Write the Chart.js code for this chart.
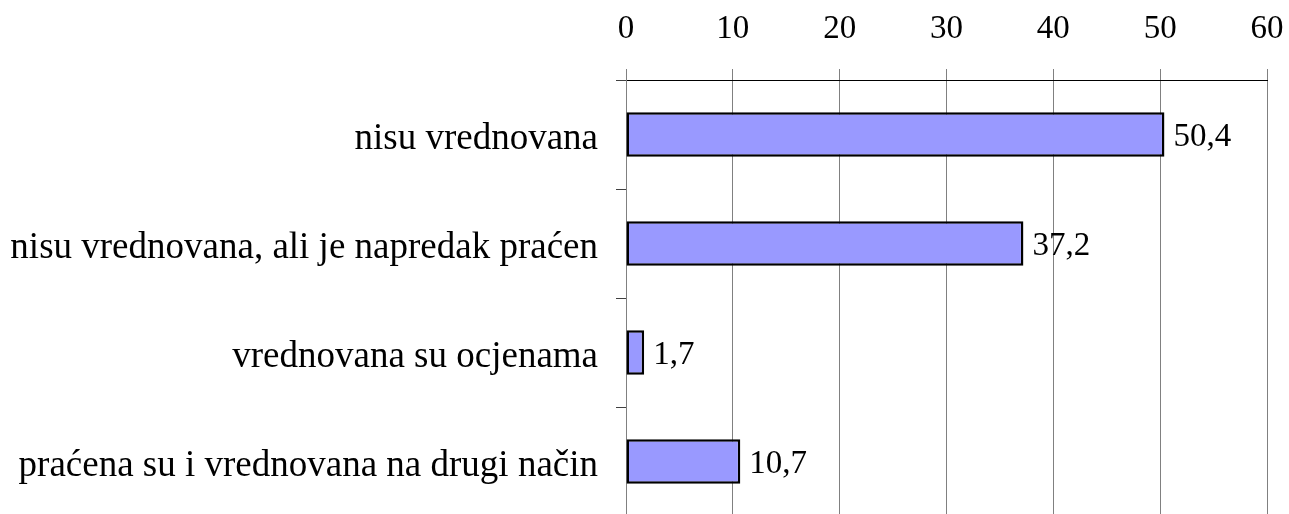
<!DOCTYPE html>
<html>
<head>
<meta charset="utf-8">
<script src="https://cdn.jsdelivr.net/npm/chart.js@4"></script>
<style>
  html, body { margin: 0; padding: 0; background: #fff; overflow: hidden; }
  #wrap { width: 1289px; height: 514px; overflow: hidden; }
</style>
</head>
<body>
<div id="wrap"><canvas id="chart" width="1289" height="518"></canvas></div>
<script>
const categories = [
    'nisu vrednovana',
    'nisu vrednovana, ali je napredak praćen',
    'vrednovana su ocjenama',
    'praćena su i vrednovana na drugi način'
];
const values = [50.4, 37.2, 1.7, 10.7];
const xTicks = [0, 10, 20, 30, 40, 50, 60];

const fontFamily = '"Liberation Serif", "Times New Roman", serif';

// draws the numbers next to each bar, comma as decimal separator
const valueLabels = {
    id: 'valueLabels',
    afterDatasetsDraw(chart) {
        const ctx = chart.ctx;
        const meta = chart.getDatasetMeta(0);
        ctx.save();
        ctx.font = '33px ' + fontFamily;
        ctx.fillStyle = '#000';
        ctx.textAlign = 'left';
        ctx.textBaseline = 'middle';
        meta.data.forEach((bar, i) => {
            const txt = values[i].toFixed(1).replace('.', ',');
            ctx.fillText(txt, bar.x + 9, bar.y + 3);
        });
        ctx.restore();
    }
};

const config = {
    type: 'bar',
    data: {
        labels: categories,
        datasets: [{
            data: values,
            backgroundColor: '#9999ff',
            borderColor: '#000',
            borderWidth: 2.5,
            borderSkipped: false,
            categoryPercentage: 1,
            barPercentage: 0.41
        }]
    },
    options: {
        indexAxis: 'y',
        responsive: false,
        animation: false,
        layout: { padding: { left: 0, right: 22, top: 0, bottom: 2 } },
        plugins: {
            legend: { display: false },
            tooltip: { enabled: false }
        },
        scales: {
            x: {
                position: 'top',
                min: 0,
                max: 60,
                afterBuildTicks(scale) {
                    scale.ticks = xTicks.map(v => ({ value: v }));
                },
                afterFit(scale) {
                    scale.height = 80;
                    scale.paddingLeft = 0;
                    scale.paddingRight = 0;
                },
                grid: {
                    color: '#808080',
                    lineWidth: 1,
                    tickLength: 11,
                    tickColor: '#808080'
                },
                border: { color: '#000', width: 1 },
                ticks: {
                    color: '#000',
                    padding: 20,
                    font: { family: fontFamily, size: 33 }
                }
            },
            y: {
                afterFit(scale) {
                    scale.width = 626;
                    scale.paddingTop = 0;
                    scale.paddingBottom = 0;
                },
                grid: {
                    drawOnChartArea: false,
                    drawTicks: true,
                    tickLength: 10,
                    color: '#404040',
                    offset: true
                },
                border: { color: '#808080', width: 1 },
                ticks: {
                    color: '#000',
                    padding: 18,
                    labelOffset: 5,
                    font: { family: fontFamily, size: 37 }
                }
            }
        }
    },
    plugins: [valueLabels]
};

const chart = new Chart(document.getElementById('chart').getContext('2d'), config);
</script>
</body>
</html>
